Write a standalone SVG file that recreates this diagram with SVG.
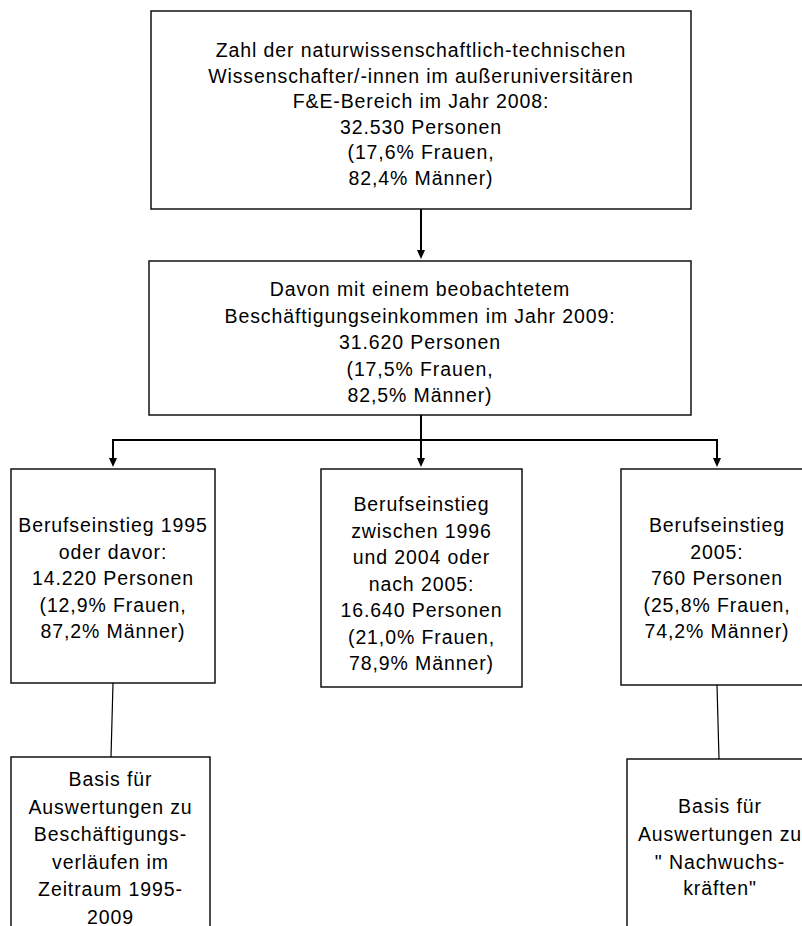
<svg xmlns="http://www.w3.org/2000/svg" width="802" height="926" viewBox="0 0 802 926">
<style>
.box{fill:#fff;stroke:#000;stroke-width:1.4}
.t{font-family:"Liberation Sans",Arial,sans-serif;font-size:19.5px;fill:#000;text-anchor:middle;letter-spacing:0.9px}
.c{fill:none;stroke:#000;stroke-width:2}
.thin{fill:none;stroke:#000;stroke-width:1.2}
.ah{fill:#000}
</style>
<rect width="802" height="926" fill="#fff"/>
<g id="connectors">
<path class="c" d="M421,209 V250"/>
<path class="ah" d="M417,250 L425,250 L421,259 Z"/>
<path class="c" d="M421,415 V458"/>
<path class="ah" d="M417,458 L425,458 L421,467 Z"/>
<path class="c" d="M113,458 V440 H717 V458"/>
<path class="ah" d="M109,458 L117,458 L113,467 Z"/>
<path class="ah" d="M713,458 L721,458 L717,467 Z"/>
<path class="thin" d="M113,683 L111,757"/>
<path class="thin" d="M717,685 L719,759"/>
</g>
<g id="n1">
<rect class="box" x="151" y="11" width="540" height="198"/>
<text class="t" x="421" y="57">Zahl der naturwissenschaftlich-technischen</text>
<text class="t" x="421" y="82.5">Wissenschafter/-innen im außeruniversitären</text>
<text class="t" x="421" y="108">F&amp;E-Bereich im Jahr 2008:</text>
<text class="t" x="421" y="133.5">32.530 Personen</text>
<text class="t" x="421" y="159">(17,6% Frauen,</text>
<text class="t" x="421" y="184.5">82,4% Männer)</text>
</g>
<g id="n2">
<rect class="box" x="149" y="261" width="542" height="154"/>
<text class="t" x="420" y="296">Davon mit einem beobachtetem</text>
<text class="t" x="420" y="322.5">Beschäftigungseinkommen im Jahr 2009:</text>
<text class="t" x="420" y="349">31.620 Personen</text>
<text class="t" x="420" y="375.5">(17,5% Frauen,</text>
<text class="t" x="420" y="402">82,5% Männer)</text>
</g>
<g id="n3">
<rect class="box" x="11" y="469" width="204" height="214"/>
<text class="t" x="113" y="532">Berufseinstieg 1995</text>
<text class="t" x="113" y="558.5">oder davor:</text>
<text class="t" x="113" y="585">14.220 Personen</text>
<text class="t" x="113" y="611.5">(12,9% Frauen,</text>
<text class="t" x="113" y="638">87,2% Männer)</text>
</g>
<g id="n4">
<rect class="box" x="321" y="469" width="201" height="218"/>
<text class="t" x="421.5" y="511">Berufseinstieg</text>
<text class="t" x="421.5" y="537.5">zwischen 1996</text>
<text class="t" x="421.5" y="564">und 2004 oder</text>
<text class="t" x="421.5" y="590.5">nach 2005:</text>
<text class="t" x="421.5" y="617">16.640 Personen</text>
<text class="t" x="421.5" y="643.5">(21,0% Frauen,</text>
<text class="t" x="421.5" y="670">78,9% Männer)</text>
</g>
<g id="n5">
<rect class="box" x="621" y="469" width="193" height="216"/>
<text class="t" x="717" y="532">Berufseinstieg</text>
<text class="t" x="717" y="558.5">2005:</text>
<text class="t" x="717" y="585">760 Personen</text>
<text class="t" x="717" y="611.5">(25,8% Frauen,</text>
<text class="t" x="717" y="638">74,2% Männer)</text>
</g>
<g id="n6">
<rect class="box" x="11" y="757" width="199" height="190"/>
<text class="t" x="110.5" y="786">Basis für</text>
<text class="t" x="110.5" y="813.5">Auswertungen zu</text>
<text class="t" x="110.5" y="841">Beschäftigungs-</text>
<text class="t" x="110.5" y="868.5">verläufen im</text>
<text class="t" x="110.5" y="896">Zeitraum 1995-</text>
<text class="t" x="110.5" y="923.5">2009</text>
</g>
<g id="n7">
<rect class="box" x="627" y="759" width="187" height="190"/>
<text class="t" x="720" y="813">Basis für</text>
<text class="t" x="720" y="841">Auswertungen zu</text>
<text class="t" x="720" y="869">" Nachwuchs-</text>
<text class="t" x="720" y="895">kräften"</text>
</g>
</svg>
